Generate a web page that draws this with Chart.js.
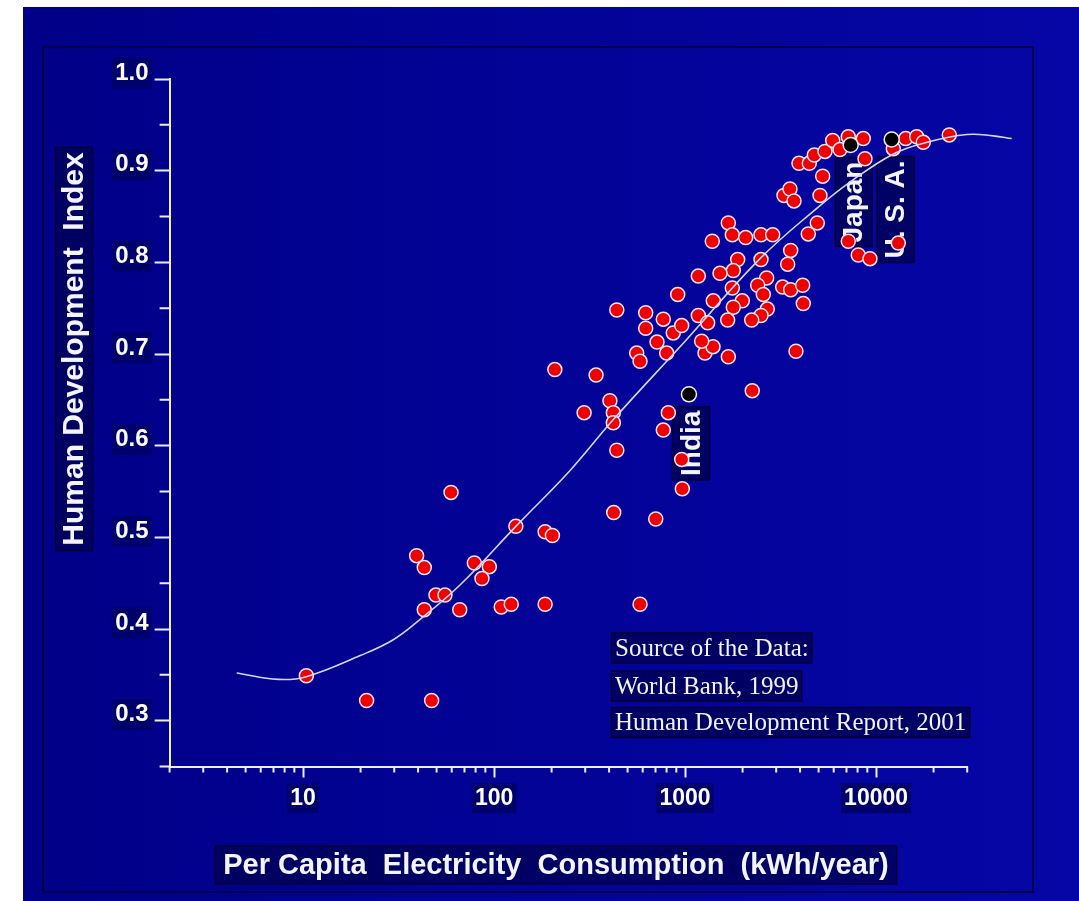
<!DOCTYPE html>
<html>
<head>
<meta charset="utf-8">
<title>Human Development Index vs Per Capita Electricity Consumption</title>
<script src="https://cdn.jsdelivr.net/npm/chart.js@4.4.1/dist/chart.umd.min.js"></script>
<style>
  html, body { margin: 0; padding: 0; background: #ffffff; }
  #wrap { width: 1079px; height: 901px; }
</style>
</head>
<body>
<div id="wrap"><canvas id="hdi" width="1079" height="901"></canvas></div>
<script>
// ================================
// DATA
// ================================
// per capita electricity use, kWh/year
const electricity = [
  10.4, 21.5, 47.1, 59.5, 39.3, 43.1, 78.8, 94.4, 86.4, 49.6,
  55.3, 43.1, 66.1, 109, 123, 185, 130, 185, 202, 581,
  423, 702, 208, 342, 404, 296, 421, 421, 439, 817,
  769, 960, 967, 558, 581, 713, 801, 1271, 1400, 1684,
  2247, 1221, 439, 622, 769, 915, 622, 867, 960, 1173,
  1313, 1173, 1388, 1684, 1767, 2076, 2497, 2875, 1886, 1788,
  1523, 1767, 1405, 1993, 1788, 1671, 2497, 2674, 2399, 2567,
  2694, 2497, 2232, 3572, 3445, 3243, 3572, 4128, 4158, 3807,
  3294, 3541, 3718, 5085, 4416, 4922, 5253, 3947, 4470, 4748,
  5401, 5928, 6471, 7153, 8570, 8748, 12310, 14290, 16320, 17670,
  24170, 7153, 8069, 9292, 13070
];
// human development index
const hdi = [
  0.349, 0.322, 0.322, 0.549, 0.480, 0.467, 0.472, 0.468, 0.455, 0.437,
  0.437, 0.421, 0.421, 0.424, 0.427, 0.427, 0.512, 0.506, 0.502, 0.427,
  0.527, 0.520, 0.683, 0.677, 0.649, 0.636, 0.636, 0.625, 0.595, 0.636,
  0.617, 0.585, 0.553, 0.701, 0.692, 0.713, 0.701, 0.701, 0.708, 0.697,
  0.660, 0.714, 0.748, 0.745, 0.738, 0.765, 0.728, 0.723, 0.731, 0.742,
  0.734, 0.785, 0.823, 0.843, 0.830, 0.827, 0.830, 0.830, 0.803, 0.791,
  0.788, 0.772, 0.758, 0.758, 0.751, 0.737, 0.803, 0.783, 0.775, 0.765,
  0.749, 0.742, 0.737, 0.813, 0.798, 0.773, 0.770, 0.775, 0.755, 0.703,
  0.873, 0.880, 0.867, 0.873, 0.831, 0.843, 0.894, 0.908, 0.908, 0.917,
  0.921, 0.933, 0.923, 0.937, 0.935, 0.913, 0.924, 0.935, 0.937, 0.931,
  0.939, 0.823, 0.808, 0.804, 0.821
];

const countryNames = ["India", "Japan", "U. S. A."];
const countryElectricity = [1048, 7362, 12070];
const countryHdi = [0.656, 0.928, 0.934];

// fitted trend line
const fitElectricity = [4.49, 7.42, 10.4, 19.9, 29.5, 40.7, 66.3, 130, 250, 419, 1011, 2467, 4963, 7302, 12260, 18470, 29920, 41080, 51290];
const fitHdi = [0.352, 0.345, 0.348, 0.371, 0.388, 0.410, 0.448, 0.512, 0.573, 0.628, 0.715, 0.804, 0.860, 0.8875, 0.918, 0.931, 0.9395, 0.938, 0.935];

const xMajorTicks = [10, 100, 1000, 10000];
const xMinorTicks = [2, 3, 4, 5, 6, 7, 8, 9, 20, 30, 40, 50, 60, 70, 80, 90,
  200, 300, 400, 500, 600, 700, 800, 900, 2000, 3000, 4000, 5000, 6000, 7000, 8000, 9000, 20000, 30000];
const xRange = [2, 30000];
const yMajorTicks = [0.3, 0.4, 0.5, 0.6, 0.7, 0.8, 0.9, 1.0];
const yMinorTicks = [0.25, 0.35, 0.45, 0.55, 0.65, 0.75, 0.85, 0.95];

const xTitle = "Per Capita  Electricity  Consumption  (kWh/year)";
const yTitle = "Human Development  Index";
const sourceLines = ["Source of the Data:", "World Bank, 1999", "Human Development Report, 2001"];


// ================================
// STYLE
// ================================
const SANS = "'Liberation Sans', Arial, sans-serif";
const SERIF = "'Liberation Serif', 'Times New Roman', serif";
const WHITE = "#f4f4ff";
const BOX_FILL = "rgba(0,0,96,0.92)";
const BOX_EDGE = "#000034";

// label offsets below each highlighted country (px)
const labelDx = [2, 3, 4];
const labelDy = [49, 57, 70];


// ================================
// HELPERS
// ================================
function drawBoxedText(ctx, text, x, y, o) {
  ctx.save();
  ctx.translate(x, y);
  if (o.rotate) ctx.rotate(o.rotate);
  ctx.font = o.font;
  ctx.textBaseline = "middle";
  ctx.textAlign = o.align || "center";
  const w = ctx.measureText(text).width;
  const padX = o.padX ?? 4;
  const left = o.align === "left" ? -padX : -w / 2 - padX;
  ctx.fillStyle = BOX_FILL;
  ctx.fillRect(left, -o.boxH / 2, w + 2 * padX, o.boxH);
  ctx.strokeStyle = BOX_EDGE;
  ctx.lineWidth = 1.5;
  ctx.strokeRect(left, -o.boxH / 2, w + 2 * padX, o.boxH);
  ctx.fillStyle = o.color || WHITE;
  ctx.fillText(text, 0, o.dy || 0);
  ctx.restore();
}


// ================================
// PLUGIN: slide background, labels, minor ticks
// ================================
const slidePlugin = {
  id: "slide",
  beforeDraw(chart) {
    const { ctx, width, height } = chart;
    ctx.save();
    ctx.fillStyle = "#ffffff";
    ctx.fillRect(0, 0, width, height);
    const g = ctx.createLinearGradient(23, 0, width, 0);
    g.addColorStop(0, "#000088");
    g.addColorStop(1, "#0606a6");
    ctx.fillStyle = g;
    ctx.fillRect(23, 7, width - 23, height - 7);
    ctx.strokeStyle = "#00004a";
    ctx.lineWidth = 2;
    ctx.strokeRect(43, 47, 990, 845);
    ctx.restore();
  },

  beforeDatasetsDraw(chart) {
    const { ctx, scales: { x, y } } = chart;
    countryNames.forEach((name, i) => {
      const px = x.getPixelForValue(countryElectricity[i]) + labelDx[i];
      const py = y.getPixelForValue(countryHdi[i]) + labelDy[i];
      drawBoxedText(ctx, name, px, py, {
        font: "bold 28px " + SANS, rotate: -Math.PI / 2, boxH: 37, padX: 4, dy: 1
      });
    });
  },

  afterDraw(chart) {
    const { ctx, chartArea, scales: { x, y } } = chart;
    ctx.save();
    ctx.strokeStyle = "#eeeeff";
    ctx.lineWidth = 2;
    ctx.beginPath();
    xMinorTicks.forEach(v => {
      const px = x.getPixelForValue(v);
      ctx.moveTo(px, chartArea.bottom);
      ctx.lineTo(px, chartArea.bottom + 6);
    });
    yMinorTicks.forEach(v => {
      const py = y.getPixelForValue(v);
      ctx.moveTo(chartArea.left - 10, py);
      ctx.lineTo(chartArea.left, py);
    });
    ctx.stroke();
    ctx.restore();

    // axis titles
    drawBoxedText(ctx, yTitle, 74, 349, {
      font: "bold 30px " + SANS, rotate: -Math.PI / 2, boxH: 37, padX: 5, dy: 1
    });
    drawBoxedText(ctx, xTitle, 556, 865, {
      font: "bold 29px " + SANS, boxH: 38, padX: 8, dy: 1
    });

    // data source note
    const noteY = [648, 686, 722.5];
    sourceLines.forEach((line, i) => {
      drawBoxedText(ctx, line, 615, noteY[i], {
        font: "25px " + SERIF, align: "left", boxH: 30, padX: 3.5, dy: 1
      });
    });
  }
};


// ================================
// BUILD CHART
// ================================
const tickFont = size => ({ family: SANS, size: size, weight: "bold" });

new Chart(document.getElementById("hdi"), {
  type: "scatter",
  data: {
    datasets: [
      {
        label: "Fit",
        data: fitElectricity.map((v, i) => ({ x: v, y: fitHdi[i] })),
        showLine: true,
        borderColor: "#d4d8ff",
        borderWidth: 1.6,
        pointRadius: 0,
        pointHoverRadius: 0,
        tension: 0.4,
        clip: false
      },
      {
        label: "Highlighted countries",
        data: countryElectricity.map((v, i) => ({ x: v, y: countryHdi[i] })),
        backgroundColor: "#000000",
        borderColor: "#f2f2f2",
        borderWidth: 1.5,
        pointRadius: 7.5,
        pointHoverRadius: 7.5,
        clip: false
      },
      {
        label: "Countries",
        data: electricity.map((v, i) => ({ x: v, y: hdi[i] })),
        backgroundColor: "#ee0000",
        borderColor: "#f6e4ee",
        borderWidth: 1.5,
        pointRadius: 7,
        pointHoverRadius: 7,
        clip: false
      }
    ]
  },
  options: {
    responsive: false,
    animation: false,
    events: [],
    layout: { padding: { top: 79, left: 0, right: 111.8, bottom: 0 } },
    plugins: {
      legend: { display: false },
      tooltip: { enabled: false }
    },
    scales: {
      x: {
        type: "logarithmic",
        bounds: "data",
        // range set here (not via min/max) so the fit line may run past the axis end
        afterDataLimits: s => { s.min = xRange[0]; s.max = xRange[1]; },
        afterFit: s => { s.height = 134.5; },
        afterBuildTicks: s => { s.ticks = xMajorTicks.map(v => ({ value: v })); },
        border: { color: "#eeeeff", width: 2 },
        grid: { drawOnChartArea: false, tickLength: 11, tickColor: "#eeeeff", tickWidth: 2 },
        ticks: {
          autoSkip: false,
          maxRotation: 0,
          padding: 7,
          color: "#ffffff",
          font: tickFont(23),
          showLabelBackdrop: true,
          backdropColor: "#00006c",
          backdropPadding: { x: 3, y: 1 },
          callback: v => String(v)
        }
      },
      y: {
        min: 0.25,
        max: 1.0,
        afterFit: s => { s.width = 169.6; },
        afterBuildTicks: s => { s.ticks = yMajorTicks.map(v => ({ value: v })); },
        border: { color: "#eeeeff", width: 2 },
        grid: { drawOnChartArea: false, tickLength: 15, tickColor: "#eeeeff", tickWidth: 2 },
        ticks: {
          padding: 6,
          labelOffset: -6,
          color: "#ffffff",
          font: tickFont(24),
          showLabelBackdrop: true,
          backdropColor: "#00006c",
          backdropPadding: { x: 3, y: 1 },
          callback: v => v.toFixed(1)
        }
      }
    }
  },
  plugins: [slidePlugin]
});
</script>
</body>
</html>
